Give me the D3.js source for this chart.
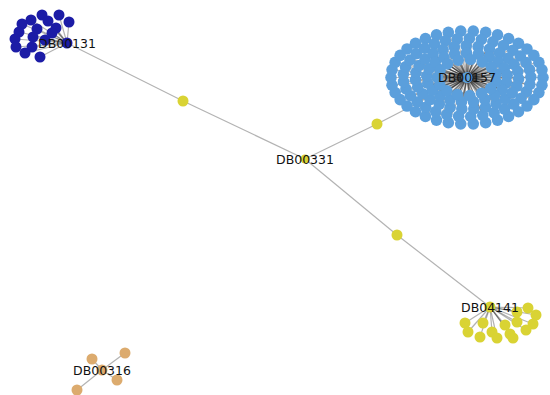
<!DOCTYPE html>
<html>
<head>
<meta charset="utf-8">
<script src="https://cdn.jsdelivr.net/npm/d3@7/dist/d3.min.js"></script>
<style>
  html, body { margin: 0; padding: 0; background: #fff; }
  svg { display: block; }
</style>
</head>
<body>
<svg id="net" width="550" height="395"></svg>
<script>
// ---- graph data -------------------------------------------------------
// Labelled drug nodes and their community
const hubIds    = ["DB00131", "DB00157", "DB00331", "DB04141", "DB00316"];
const hubGroups = ["g1",      "g2",      "g3",      "g3",      "g4"];

// Unlabelled bridge nodes on the paths between labelled nodes
const bridgeIds = ["b1", "b2", "b3"];
const bridgeLinks = [
  ["DB00131", "b1"], ["b1", "DB00331"],
  ["DB00331", "b2"], ["b2", "DB00157"],
  ["DB00331", "b3"], ["b3", "DB04141"]
];

// Number of leaf neighbours hanging off each hub
const leafCounts = { DB00131: 17, DB04141: 15, DB00316: 4 };
// DB00157 leaves sit on concentric rings (leaves per ring, outermost first)
const ringCounts = [38, 33, 27, 21, 15];

// Community colours
const groupColor = { g1: "#1c1ca6", g2: "#5b9fdc", g3: "#d9d334", g4: "#dcab6e" };

// ---- layout (node positions in layout units) --------------------------
const hubPos = {
  DB00131: [67, 43], DB00157: [467, 77.5], DB00331: [305, 159],
  DB04141: [490, 307], DB00316: [102, 370]
};
const bridgePos = { b1: [183, 101], b2: [377, 124], b3: [397, 235] };
const leafPos = {
  DB00131: [[42,15],[59,15],[69,22],[31,20],[48,21],[56,28],[22,24],[37,29],
            [19,32],[33,37],[15,39],[32,47],[16,47],[25,53],[40,57],[45,40],[52,33]],
  DB04141: [[528,308],[536,315],[517,312],[465,323],[483,323],[505,325],[517,322],
            [533,324],[468,332],[492,332],[510,334],[526,330],[480,337],[497,338],[513,338]],
  DB00316: [[92,359],[125,353],[117,380],[77,390]]
};
const ringSpan = { rx: 76, ry: 46.5, fractions: [1, 0.84, 0.68, 0.53, 0.39] };

// ---- build nodes & links ---------------------------------------------
const nodes = [];
const links = [];
hubIds.forEach((id, i) => nodes.push({ id, group: hubGroups[i], hub: true, pos: hubPos[id] }));
bridgeIds.forEach(id => nodes.push({ id, group: "g3", pos: bridgePos[id] }));
bridgeLinks.forEach(([s, t]) => links.push({ source: s, target: t }));

Object.keys(leafCounts).forEach(hub => {
  const g = hubGroups[hubIds.indexOf(hub)];
  d3.range(leafCounts[hub]).forEach(k => {
    const id = hub + "_" + k;
    nodes.push({ id, group: g, pos: leafPos[hub][k] });
    links.push({ source: hub, target: id });
  });
});

// DB00157 neighbours: elliptical ring layout around the hub
ringCounts.forEach((n, r) => {
  const f = ringSpan.fractions[r];
  const phase = r * 0.37;
  d3.range(n).forEach(k => {
    const a = phase + (k / n) * 2 * Math.PI;
    const id = "DB00157_" + r + "_" + k;
    nodes.push({
      id, group: "g2", ring: true,
      pos: [hubPos.DB00157[0] + Math.cos(a) * ringSpan.rx * f,
            hubPos.DB00157[1] + Math.sin(a) * ringSpan.ry * f]
    });
    links.push({ source: "DB00157", target: id });
  });
});

// ---- drawing ----------------------------------------------------------
const svg = d3.select("#net");
const W = 550, H = 395;
const x = d3.scaleLinear().domain([0, 550]).range([0, W]);
const y = d3.scaleLinear().domain([0, 395]).range([0, H]);
const byId = new Map(nodes.map(n => [n.id, n]));

svg.append("g").attr("class", "links")
  .selectAll("line").data(links).join("line")
  .attr("x1", d => x(byId.get(d.source).pos[0]))
  .attr("y1", d => y(byId.get(d.source).pos[1]))
  .attr("x2", d => x(byId.get(d.target).pos[0]))
  .attr("y2", d => y(byId.get(d.target).pos[1]))
  .attr("stroke", "#000")
  .attr("stroke-opacity", 0.3)
  .attr("stroke-width", 1.2);

svg.append("g").attr("class", "nodes")
  .selectAll("circle").data(nodes).join("circle")
  .attr("cx", d => x(d.pos[0]))
  .attr("cy", d => y(d.pos[1]))
  .attr("r", d => d.id === "DB00331" ? 4.5 : (d.ring ? 5.8 : 5.5))
  .attr("fill", d => groupColor[d.group]);

svg.append("g").attr("class", "labels")
  .selectAll("text").data(nodes.filter(d => d.hub)).join("text")
  .attr("x", d => x(d.pos[0]))
  .attr("y", d => y(d.pos[1]))
  .attr("text-anchor", "middle")
  .attr("dominant-baseline", "central")
  .attr("font-family", "DejaVu Sans, sans-serif")
  .attr("font-size", 12.5)
  .attr("fill", "#111")
  .text(d => d.id);
</script>
</body>
</html>
